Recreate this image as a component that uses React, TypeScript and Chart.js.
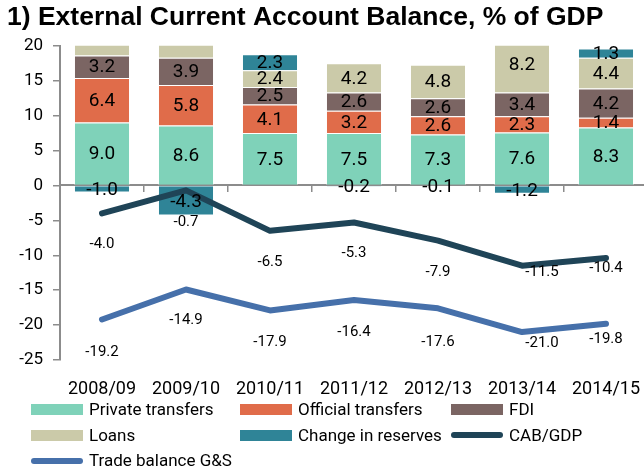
import React, { useEffect, useRef } from 'react';
import { Chart, registerables } from 'chart.js';

Chart.register(...registerables);

// ---------- data ----------
const categories = ['2008/09', '2009/10', '2010/11', '2011/12', '2012/13', '2013/14', '2014/15'];
const privateTransfers = [9.0, 8.6, 7.5, 7.5, 7.3, 7.6, 8.3];
const officialTransfers = [6.4, 5.8, 4.1, 3.2, 2.6, 2.3, 1.4];
const fdi = [3.2, 3.9, 2.5, 2.6, 2.6, 3.4, 4.2];
const loans = [3.4, 4.0, 2.4, 4.2, 4.8, 8.2, 4.4];
const changeInReserves = [-1.0, -4.3, 2.3, -0.2, -0.1, -1.2, 1.3];
const cabGdp = [-4.0, -0.7, -6.5, -5.3, -7.9, -11.5, -10.4];
const tradeBalance = [-19.2, -14.9, -17.9, -16.4, -17.6, -21.0, -19.8];
const yMin = -25;
const yMax = 20;
const yStep = 5;

// ---------- style ----------
const COLORS = {
  private: '#7fd2b9',
  official: '#e06c4a',
  fdi: '#7b6563',
  loans: '#cbcaa9',
  reserves: '#2f8497',
  cab: '#1f4457',
  trade: '#4670aa',
  axis: '#8c8c8c',
};
const FONT = 'Roboto, "Liberation Sans", sans-serif';
// label placement nudges (pixels, below the line point)
const cabLabelDy = [31, 32, 31, 31, 32, 7, 10];
const tradeLabelDy = [33, 31, 32, 32, 34, 11, 16];
const lineLabelDx = [0, 0, 0, 0, 0, 20, 0];

const valueLabels = {
  id: 'valueLabels',
  afterDatasetsDraw(chart: any) {
    const ctx = chart.ctx;
    const area = chart.chartArea;
    ctx.save();
    ctx.fillStyle = '#000';
    ctx.textAlign = 'center';
    ctx.textBaseline = 'middle';
    chart.data.datasets.forEach((ds: any, di: number) => {
      const meta = chart.getDatasetMeta(di);
      meta.data.forEach((el: any, i: number) => {
        const v = ds.data[i];
        if (v === null || v === undefined) return;
        if (meta.type === 'bar') {
          const p = el.getProps(['x', 'y', 'base'], true);
          const cy = (p.y + p.base) / 2;
          if (cy < area.top || cy > area.bottom) return;
          ctx.font = `19px ${FONT}`;
          ctx.fillText(v.toFixed(1), p.x, cy + 1);
        } else {
          const p = el.getProps(['x', 'y'], true);
          const dys = ds.labelDy || [];
          ctx.font = `15px ${FONT}`;
          ctx.fillText(v.toFixed(1), p.x + (lineLabelDx[i] || 0), p.y + (dys[i] || 30));
        }
      });
    });
    ctx.restore();
  },
};

function ChartCanvas() {
  const ref = useRef<HTMLCanvasElement | null>(null);
  useEffect(() => {
    if (!ref.current) return;
    const barDs = (label: string, data: number[], color: string) => ({
      type: 'bar' as const,
      label,
      data,
      backgroundColor: color,
      borderColor: 'rgba(255,255,255,0.55)',
      borderWidth: 1,
      xAxisID: 'x',
      yAxisID: 'y',
      order: 2,
      clip: 0,
      categoryPercentage: 1,
      barPercentage: 0.667,
    });
    const lineDs = (label: string, data: number[], color: string, dy: number[]) => ({
      type: 'line' as const,
      label,
      data,
      borderColor: color,
      backgroundColor: color,
      borderWidth: 6,
      pointRadius: 0,
      tension: 0,
      borderCapStyle: 'round',
      borderJoinStyle: 'round',
      xAxisID: 'x',
      yAxisID: 'y2',
      order: 0,
      labelDy: dy,
    });
    const chart = new Chart(ref.current, {
      type: 'bar',
      data: {
        labels: categories,
        datasets: [
          lineDs('CAB/GDP', cabGdp, COLORS.cab, cabLabelDy) as any,
          lineDs('Trade balance G&S', tradeBalance, COLORS.trade, tradeLabelDy) as any,
          barDs('Private transfers', privateTransfers, COLORS.private),
          barDs('Official transfers', officialTransfers, COLORS.official),
          barDs('FDI', fdi, COLORS.fdi),
          barDs('Loans', loans, COLORS.loans),
          barDs('Change in reserves', changeInReserves, COLORS.reserves),
        ],
      },
      options: {
        responsive: false,
        animation: false,
        devicePixelRatio: 1,
        layout: { padding: { left: 7, right: 12, top: 0, bottom: 73 } },
        plugins: {
          legend: { display: false },
          tooltip: { enabled: false },
          title: {
            display: true,
            text: '1) External Current Account Balance, % of GDP',
            align: 'start',
            color: '#000',
            font: { family: '"Liberation Sans", Arial, sans-serif', size: 26.5, weight: 'bold' },
            padding: { top: 2, bottom: 12 },
          },
        },
        scales: {
          x: {
            type: 'category',
            position: 'bottom',
            stacked: true,
            offset: true,
            grid: { display: false, drawTicks: false },
            border: { display: false },
            ticks: { color: '#000', font: { family: FONT, size: 18 }, padding: 19, maxRotation: 0, autoSkip: false },
            afterFit: (s: any) => { s.height = 40; },
          },
          x0: {
            type: 'category',
            labels: categories,
            position: { y: 0 } as any,
            offset: true,
            grid: { offset: true, drawOnChartArea: false, drawTicks: true, tickLength: 6, color: COLORS.axis, lineWidth: 1.5 },
            border: { display: true, color: COLORS.axis, width: 2 },
            ticks: { display: false },
          },
          y: {
            type: 'linear',
            position: 'left',
            stacked: true,
            min: yMin,
            max: yMax,
            ticks: { stepSize: yStep, color: '#000', font: { family: FONT, size: 17 }, padding: 10 },
            grid: { drawOnChartArea: false, drawTicks: true, tickLength: 7, color: COLORS.axis, lineWidth: 1.5 },
            border: { display: true, color: COLORS.axis, width: 2 },
            afterFit: (s: any) => { s.width = 53; },
          },
          y2: {
            type: 'linear',
            display: false,
            min: yMin,
            max: yMax,
          },
        },
      } as any,
      plugins: [valueLabels],
    });
    return () => chart.destroy();
  }, []);
  return <canvas ref={ref} width={660} height={473} style={{ width: 660, height: 473, display: 'block' }} />;
}

type LegendItem = { label: string; color: string; kind: 'box' | 'line' };
const legendRows: LegendItem[][] = [
  [
    { label: 'Private transfers', color: COLORS.private, kind: 'box' },
    { label: 'Official transfers', color: COLORS.official, kind: 'box' },
    { label: 'FDI', color: COLORS.fdi, kind: 'box' },
  ],
  [
    { label: 'Loans', color: COLORS.loans, kind: 'box' },
    { label: 'Change in reserves', color: COLORS.reserves, kind: 'box' },
    { label: 'CAB/GDP', color: COLORS.cab, kind: 'line' },
  ],
  [{ label: 'Trade balance G&S', color: COLORS.trade, kind: 'line' }],
];
const colWidths = [209, 211];

function Legend() {
  return (
    <div style={{ position: 'absolute', left: 31, top: 397, fontFamily: FONT, fontSize: 17, color: '#000' }}>
      {legendRows.map((row, ri) => (
        <div key={ri} style={{ display: 'flex', height: 25.5, alignItems: 'center' }}>
          {row.map((it, ci) => (
            <div key={ci} style={{ display: 'flex', alignItems: 'center', width: colWidths[ci] ?? 'auto' }}>
              <div
                style={{
                  width: 52,
                  height: it.kind === 'box' ? 11 : 6,
                  background: it.color,
                  borderRadius: it.kind === 'line' ? 3 : 0,
                  marginRight: 6,
                  flex: 'none',
                }}
              />
              <span style={{ whiteSpace: 'nowrap', lineHeight: 1 }}>{it.label}</span>
            </div>
          ))}
        </div>
      ))}
    </div>
  );
}

export default function App() {
  return (
    <div style={{ position: 'fixed', left: 0, top: 0, width: 644, height: 473, overflow: 'hidden', background: '#fff' }}>
      <div style={{ position: 'relative', width: 660, height: 473 }}>
        <ChartCanvas />
        <Legend />
      </div>
    </div>
  );
}
